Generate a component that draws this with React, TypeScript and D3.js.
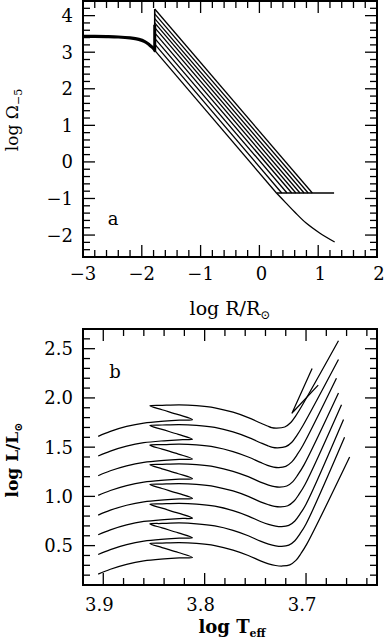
import { useEffect, useRef } from 'react';
import * as d3 from 'd3';

const FONT = 'DejaVu Serif, serif';

// ---- panel a: log Omega_-5 vs log R ----
const plateauLogR = [-3, -2.8, -2.6, -2.4, -2.2, -2.05, -1.95, -1.87, -1.82, -1.78];
const plateauLogOmega = [3.43, 3.43, 3.425, 3.415, 3.39, 3.35, 3.29, 3.2, 3.13, 3.06];
const jumpLogR = -1.78;
const startLogOmega = [3.05, 3.22, 3.38, 3.53, 3.67, 3.8, 3.92, 4.05, 4.18];
const floorLogR = [0.29, 0.38, 0.47, 0.55, 0.62, 0.69, 0.76, 0.83, 0.9];
const floorLogOmega = -0.85;
const floorEndLogR = 1.27;
const tailLogR = [0.29, 0.45, 0.6, 0.8, 1.03, 1.28];
const tailLogOmega = [-0.85, -1.12, -1.37, -1.68, -1.95, -2.19];

const aXTicks = [-3, -2, -1, 0, 1, 2];
const aYTicks = [-2, -1, 0, 1, 2, 3, 4];

// ---- panel b: tracks in the HR diagram, [log Teff, log L] ----
const track0 = [
  [3.905, 0.21], [3.893, 0.26], [3.877, 0.31], [3.86, 0.345], [3.84, 0.365], [3.825, 0.375], [3.812, 0.38],
  [3.826, 0.43], [3.842, 0.48], [3.854, 0.52],
  [3.842, 0.525], [3.825, 0.53], [3.808, 0.522], [3.79, 0.5], [3.772, 0.455], [3.757, 0.4], [3.745, 0.345], [3.737, 0.315], [3.73, 0.298], [3.723, 0.293],
  [3.716, 0.305], [3.71, 0.35], [3.705, 0.42], [3.699, 0.52], [3.657, 1.4],
];
const track1 = [
  [3.905, 0.41], [3.893, 0.46], [3.877, 0.51], [3.86, 0.545], [3.84, 0.565], [3.825, 0.575], [3.812, 0.58],
  [3.826, 0.63], [3.842, 0.68], [3.854, 0.72],
  [3.842, 0.725], [3.825, 0.73], [3.808, 0.722], [3.79, 0.7], [3.772, 0.655], [3.757, 0.6], [3.745, 0.545], [3.737, 0.515], [3.73, 0.498], [3.724, 0.493],
  [3.717, 0.505], [3.711, 0.55], [3.706, 0.62], [3.7, 0.72], [3.662, 1.6],
];
const track2 = [
  [3.905, 0.61], [3.893, 0.66], [3.877, 0.71], [3.86, 0.745], [3.84, 0.765], [3.825, 0.775], [3.812, 0.78],
  [3.826, 0.83], [3.842, 0.88], [3.854, 0.92],
  [3.842, 0.925], [3.825, 0.93], [3.808, 0.922], [3.79, 0.9], [3.772, 0.855], [3.757, 0.8], [3.745, 0.745], [3.737, 0.715], [3.73, 0.698], [3.724, 0.693],
  [3.717, 0.705], [3.711, 0.75], [3.706, 0.82], [3.7, 0.92], [3.663, 1.78],
];
const track3 = [
  [3.905, 0.81], [3.893, 0.86], [3.877, 0.91], [3.86, 0.945], [3.84, 0.965], [3.825, 0.975], [3.812, 0.98],
  [3.826, 1.03], [3.842, 1.08], [3.854, 1.12],
  [3.842, 1.125], [3.825, 1.13], [3.808, 1.122], [3.79, 1.1], [3.772, 1.055], [3.757, 1.0], [3.745, 0.945], [3.737, 0.915], [3.731, 0.898], [3.725, 0.893],
  [3.718, 0.905], [3.712, 0.95], [3.707, 1.02], [3.701, 1.12], [3.665, 1.93],
];
const track4 = [
  [3.905, 1.01], [3.893, 1.06], [3.877, 1.11], [3.86, 1.145], [3.84, 1.165], [3.825, 1.175], [3.812, 1.18],
  [3.826, 1.23], [3.842, 1.28], [3.854, 1.32],
  [3.842, 1.325], [3.825, 1.33], [3.808, 1.322], [3.79, 1.3], [3.772, 1.255], [3.757, 1.2], [3.745, 1.145], [3.737, 1.115], [3.731, 1.098], [3.726, 1.093],
  [3.719, 1.105], [3.713, 1.15], [3.708, 1.22], [3.702, 1.32], [3.668, 2.05],
];
const track5 = [
  [3.905, 1.21], [3.893, 1.26], [3.877, 1.31], [3.86, 1.345], [3.84, 1.365], [3.825, 1.375], [3.812, 1.38],
  [3.826, 1.43], [3.842, 1.48], [3.854, 1.52],
  [3.842, 1.525], [3.825, 1.53], [3.808, 1.522], [3.79, 1.5], [3.772, 1.455], [3.757, 1.4], [3.745, 1.345], [3.738, 1.315], [3.732, 1.298], [3.727, 1.293],
  [3.72, 1.305], [3.714, 1.35], [3.709, 1.42], [3.703, 1.52], [3.67, 2.2],
];
const track6 = [
  [3.905, 1.41], [3.893, 1.46], [3.877, 1.51], [3.86, 1.545], [3.84, 1.565], [3.825, 1.575], [3.812, 1.58],
  [3.826, 1.63], [3.842, 1.68], [3.854, 1.72],
  [3.842, 1.725], [3.825, 1.73], [3.808, 1.722], [3.79, 1.7], [3.772, 1.655], [3.757, 1.6], [3.745, 1.545], [3.738, 1.515], [3.733, 1.498], [3.728, 1.493],
  [3.72, 1.505], [3.714, 1.55], [3.709, 1.62], [3.703, 1.72], [3.668, 2.39],
];
const track7 = [
  [3.905, 1.61], [3.893, 1.66], [3.877, 1.71], [3.86, 1.745], [3.84, 1.765], [3.825, 1.775], [3.812, 1.78],
  [3.826, 1.83], [3.842, 1.88], [3.854, 1.92],
  [3.842, 1.925], [3.825, 1.93], [3.808, 1.922], [3.79, 1.9], [3.772, 1.855], [3.757, 1.8], [3.745, 1.745], [3.738, 1.715], [3.734, 1.698], [3.729, 1.693],
  [3.721, 1.705], [3.715, 1.75], [3.71, 1.82], [3.704, 1.92], [3.668, 2.58],
];
const hookSegment = [[3.694, 2.3], [3.714, 1.843], [3.7126, 1.86], [3.688, 2.13]];
const tracks = [track0, track1, track2, track3, track4, track5, track6, track7];

const bXTicks = [3.9, 3.8, 3.7];
const bYTicks = [0.5, 1.0, 1.5, 2.0, 2.5];

const fmtInt = (v) => (v < 0 ? '\u2212' + Math.abs(v) : String(v));
const fmtOne = (v) => v.toFixed(1);

function drawBox(g, x, y, major, minor) {
  const [x0, x1] = x.range();
  const [y0, y1] = y.range();
  const majLen = 12;
  const minLen = 7;
  const ticks = g.append('g').attr('stroke', '#000').attr('stroke-width', 1.3);
  const xd = x.domain();
  const yd = y.domain();
  const inside = (v, d) => v > Math.min(...d) + 1e-6 && v < Math.max(...d) - 1e-6;
  const xs = [
    ...major.x.filter((v) => inside(v, xd)).map((v) => [v, majLen]),
    ...minor.x.filter((v) => inside(v, xd)).map((v) => [v, minLen]),
  ];
  const ys = [
    ...major.y.filter((v) => inside(v, yd)).map((v) => [v, majLen]),
    ...minor.y.filter((v) => inside(v, yd)).map((v) => [v, minLen]),
  ];
  xs.forEach(([v, len]) => {
    ticks.append('line').attr('x1', x(v)).attr('x2', x(v)).attr('y1', y0).attr('y2', y0 - len);
    ticks.append('line').attr('x1', x(v)).attr('x2', x(v)).attr('y1', y1).attr('y2', y1 + len);
  });
  ys.forEach(([v, len]) => {
    ticks.append('line').attr('y1', y(v)).attr('y2', y(v)).attr('x1', x0).attr('x2', x0 + len);
    ticks.append('line').attr('y1', y(v)).attr('y2', y(v)).attr('x1', x1).attr('x2', x1 - len);
  });
  g.append('rect')
    .attr('x', x0).attr('y', y1)
    .attr('width', x1 - x0).attr('height', y0 - y1)
    .attr('fill', 'none').attr('stroke', '#000').attr('stroke-width', 2);
}

function minorRange(lo, hi, step, majors) {
  const out = [];
  const n = Math.round((hi - lo) / step);
  for (let i = 0; i <= n; i++) {
    const v = +(lo + i * step).toFixed(4);
    if (!majors.some((m) => Math.abs(m - v) < 1e-6)) out.push(v);
  }
  return out;
}

export default function App() {
  const svgRef = useRef(null);

  useEffect(() => {
    const svg = d3.select(svgRef.current);
    svg.selectAll('*').remove();

    // ---------- panel a ----------
    const xa = d3.scaleLinear().domain([-3, 2]).range([83, 377]);
    const ya = d3.scaleLinear().domain([-2.6, 4.4]).range([257, 1]);
    const ga = svg.append('g');

    const lineA = d3.line().x((d) => xa(d[0])).y((d) => ya(d[1]));
    const curveA = d3.line().x((d) => xa(d[0])).y((d) => ya(d[1])).curve(d3.curveCatmullRom);

    // plateau bundle
    ga.append('path')
      .attr('d', curveA(plateauLogR.map((r, i) => [r, plateauLogOmega[i]])))
      .attr('fill', 'none').attr('stroke', '#000').attr('stroke-width', 3.2);

    // vertical jump
    ga.append('path')
      .attr('d', lineA([[jumpLogR, 3.0], [jumpLogR, d3.max(startLogOmega)]]))
      .attr('stroke', '#000').attr('stroke-width', 1.6);
    ga.append('path')
      .attr('d', lineA([[jumpLogR, 3.02], [jumpLogR, 3.75]]))
      .attr('stroke', '#000').attr('stroke-width', 3);

    // spin-down lines
    startLogOmega.forEach((w, i) => {
      ga.append('path')
        .attr('d', lineA([[jumpLogR, w], [floorLogR[i], floorLogOmega]]))
        .attr('fill', 'none').attr('stroke', '#000').attr('stroke-width', 1.3);
    });
    // floor
    ga.append('path')
      .attr('d', lineA([[floorLogR[0], floorLogOmega], [floorEndLogR, floorLogOmega]]))
      .attr('stroke', '#000').attr('stroke-width', 1.5);
    // tail
    ga.append('path')
      .attr('d', curveA(tailLogR.map((r, i) => [r, tailLogOmega[i]])))
      .attr('fill', 'none').attr('stroke', '#000').attr('stroke-width', 1.3);

    drawBox(ga, xa, ya,
      { x: aXTicks, y: aYTicks },
      { x: minorRange(-3, 2, 0.2, aXTicks), y: minorRange(-2.6, 4.4, 0.2, aYTicks) });

    ga.selectAll('.xt').data(aXTicks).join('text')
      .attr('x', (d) => xa(d) + (d >= 0 ? 2 : 0)).attr('y', 280)
      .attr('text-anchor', 'middle').attr('font-family', FONT).attr('font-size', 18)
      .text(fmtInt);
    ga.selectAll('.yt').data(aYTicks).join('text')
      .attr('x', 73).attr('y', (d) => ya(d) + 6.5)
      .attr('text-anchor', 'end').attr('font-family', FONT).attr('font-size', 18)
      .text(fmtInt);

    const xla = ga.append('text').attr('x', 230).attr('y', 315)
      .attr('text-anchor', 'middle').attr('font-family', FONT).attr('font-size', 19);
    xla.append('tspan').text('log R/R');
    xla.append('tspan').attr('font-size', 12).attr('dy', 4).text('\u2299');

    const yla = ga.append('text').attr('transform', 'translate(18,120) rotate(-90)')
      .attr('text-anchor', 'middle').attr('font-family', FONT).attr('font-size', 17);
    yla.append('tspan').text('log \u03a9');
    yla.append('tspan').attr('font-size', 11).attr('dy', 4).text('\u22125');

    ga.append('text').attr('x', 113).attr('y', 225)
      .attr('text-anchor', 'middle').attr('font-family', FONT).attr('font-size', 18).text('a');

    // ---------- panel b ----------
    const xb = d3.scaleLinear().domain([3.92, 3.63]).range([83, 377]);
    const yb = d3.scaleLinear().domain([0.1, 2.7]).range([585, 329]);
    const gb = svg.append('g');

    const lineB = d3.line().x((d) => xb(d[0])).y((d) => yb(d[1])).curve(d3.curveCatmullRom.alpha(0.5));
    tracks.forEach((t) => {
      gb.append('path').attr('d', lineB(t))
        .attr('fill', 'none').attr('stroke', '#000').attr('stroke-width', 1.25);
    });
    gb.append('path').attr('d', d3.line().x((d) => xb(d[0])).y((d) => yb(d[1]))(hookSegment))
      .attr('fill', 'none').attr('stroke', '#000').attr('stroke-width', 1.25);

    drawBox(gb, xb, yb,
      { x: bXTicks, y: bYTicks },
      { x: minorRange(3.64, 3.92, 0.02, bXTicks), y: minorRange(0.1, 2.7, 0.1, bYTicks) });

    gb.selectAll('.xt').data(bXTicks).join('text')
      .attr('x', (d) => xb(d) - 4).attr('y', 611)
      .attr('text-anchor', 'middle').attr('font-family', FONT).attr('font-size', 18)
      .text(fmtOne);
    gb.selectAll('.yt').data(bYTicks).join('text')
      .attr('x', 73).attr('y', (d) => yb(d) + 6.5)
      .attr('text-anchor', 'end').attr('font-family', FONT).attr('font-size', 18)
      .text(fmtOne);

    const xlb = gb.append('text').attr('x', 232).attr('y', 633)
      .attr('text-anchor', 'middle').attr('font-family', FONT).attr('font-size', 18).attr('font-weight', 'bold');
    xlb.append('tspan').text('log T');
    xlb.append('tspan').attr('font-size', 11).attr('dy', 4).text('eff');

    const ylb = gb.append('text').attr('transform', 'translate(18,460) rotate(-90)')
      .attr('text-anchor', 'middle').attr('font-family', FONT).attr('font-size', 17).attr('font-weight', 'bold');
    ylb.append('tspan').text('log L/L');
    ylb.append('tspan').attr('font-size', 11).attr('dy', 4).text('\u2299');

    gb.append('text').attr('x', 115).attr('y', 378)
      .attr('text-anchor', 'middle').attr('font-family', FONT).attr('font-size', 18).text('b');
  }, []);

  return (
    <svg
      ref={svgRef}
      width={386}
      height={642}
      style={{ position: 'absolute', left: 0, top: 0, background: '#fff' }}
    />
  );
}
